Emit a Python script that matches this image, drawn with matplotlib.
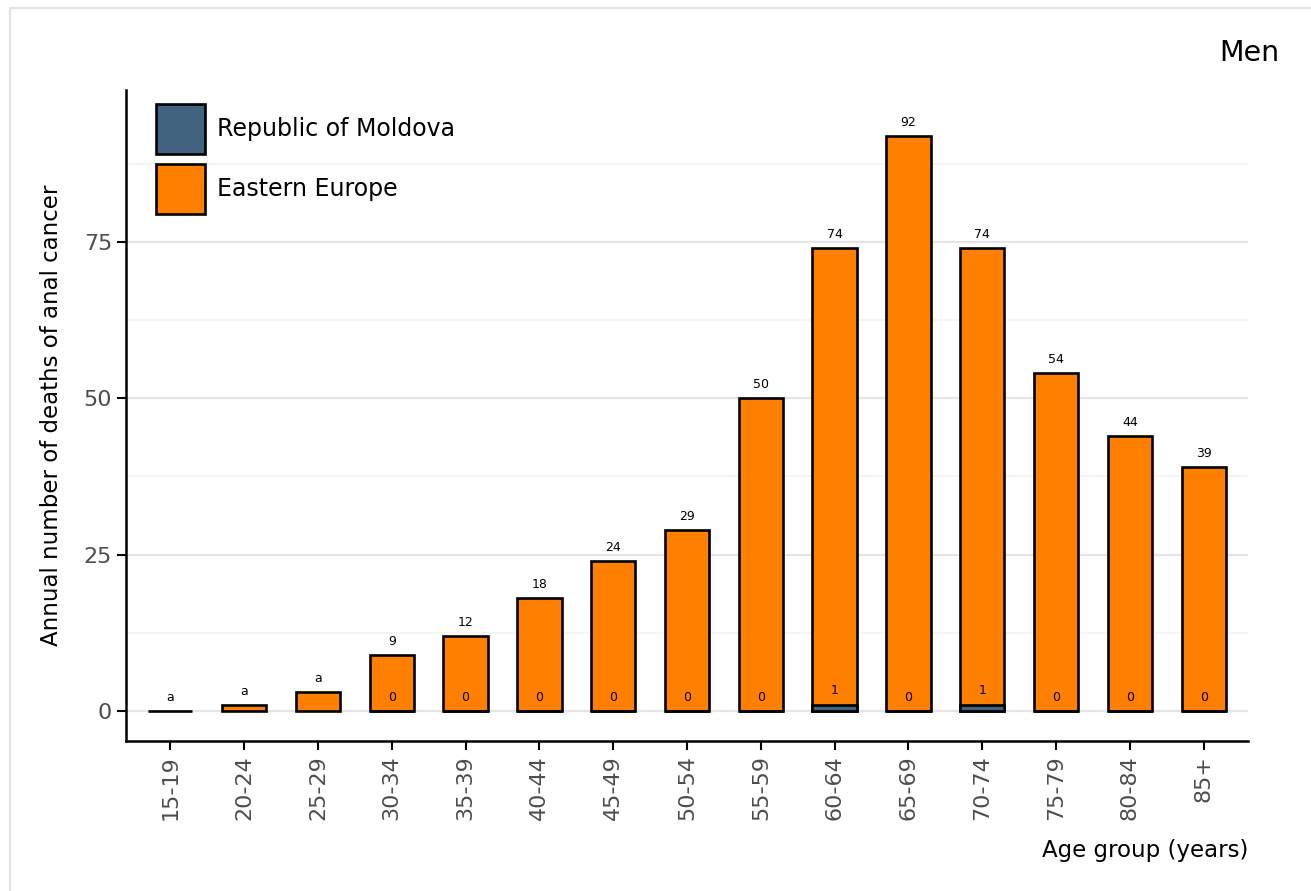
import matplotlib
matplotlib.use("Agg")
import matplotlib.pyplot as plt
from matplotlib.patches import Rectangle, Patch
import numpy as np

categories = ["15-19", "20-24", "25-29", "30-34", "35-39", "40-44", "45-49",
              "50-54", "55-59", "60-64", "65-69", "70-74", "75-79", "80-84", "85+"]
eastern_europe = [0, 1, 3, 9, 12, 18, 24, 29, 50, 74, 92, 74, 54, 44, 39]
moldova = [np.nan, np.nan, np.nan, 0, 0, 0, 0, 0, 0, 1, 0, 1, 0, 0, 0]
ee_labels = ["a", "a", "a", "9", "12", "18", "24", "29", "50", "74", "92", "74", "54", "44", "39"]

orange = "#ff7f00"
blue = "#41637f"

fig = plt.figure(figsize=(13.11, 8.91), dpi=100)
fig.patches.append(Rectangle((10/1311, -0.1), 1.2, (891-8)/891 + 0.1,
                             transform=fig.transFigure, fill=False,
                             edgecolor="#dddddd", linewidth=1.2))
ax = fig.add_axes([126/1311, 150/891, (1248-126)/1311, (741-90)/891])

x = np.arange(len(categories))
w = 0.6
lw = 1.9
ax.bar(x, eastern_europe, width=w, color=orange, edgecolor="black", linewidth=lw, zorder=3)
for i, v in enumerate(moldova):
    if not np.isnan(v):
        ax.bar(x[i], v, width=w, color=blue, edgecolor="black", linewidth=lw, zorder=4)

for i, (v, lab) in enumerate(zip(eastern_europe, ee_labels)):
    ax.annotate(lab, (x[i], v), xytext=(0, 5), textcoords="offset points",
                ha="center", va="bottom", fontsize=9, zorder=5)
for i, v in enumerate(moldova):
    if not np.isnan(v):
        ax.text(x[i], v + 2.2, str(int(v)), ha="center", va="center", fontsize=9, zorder=5)

ax.set_xlim(-0.6, 14.6)
ax.set_ylim(-4.8, 99.3)
ax.set_yticks([0, 25, 50, 75])
ax.set_yticks([12.5, 37.5, 62.5, 87.5], minor=True)
ax.tick_params(axis="y", which="minor", length=0)
ax.grid(axis="y", which="major", color="#e5e5e5", linewidth=1.6, zorder=0)
ax.grid(axis="y", which="minor", color="#f5f5f5", linewidth=1.4, zorder=0)
ax.set_axisbelow(True)
ax.set_xticks(x)
ax.set_xticklabels(categories, rotation=90)
ax.tick_params(axis="both", labelsize=16, labelcolor="#4d4d4d", length=6.5, width=1.5)
for s in ["top", "right"]:
    ax.spines[s].set_visible(False)
for s in ["left", "bottom"]:
    ax.spines[s].set_linewidth(1.8)

ax.set_ylabel("Annual number of deaths of anal cancer", fontsize=16.5)
ax.yaxis.set_label_coords((63 - 126) / 1122, 0.5)
fig.text(1248/1311, 1 - 851/891, "Age group (years)", ha="right", va="center", fontsize=16.5)
fig.text(1279/1311, 1 - 53/891, "Men", ha="right", va="center", fontsize=20.5)

handles = [Patch(facecolor=blue, edgecolor="black", linewidth=lw),
           Patch(facecolor=orange, edgecolor="black", linewidth=lw)]
ax.legend(handles, ["Republic of Moldova", "Eastern Europe"], loc="upper left",
          bbox_to_anchor=(0.014, 1.0), frameon=False, fontsize=17,
          handlelength=2.1, handleheight=2.85, handletextpad=0.5, labelspacing=0.45,
          borderaxespad=0.2)

fig.savefig("out.png", dpi=100)
